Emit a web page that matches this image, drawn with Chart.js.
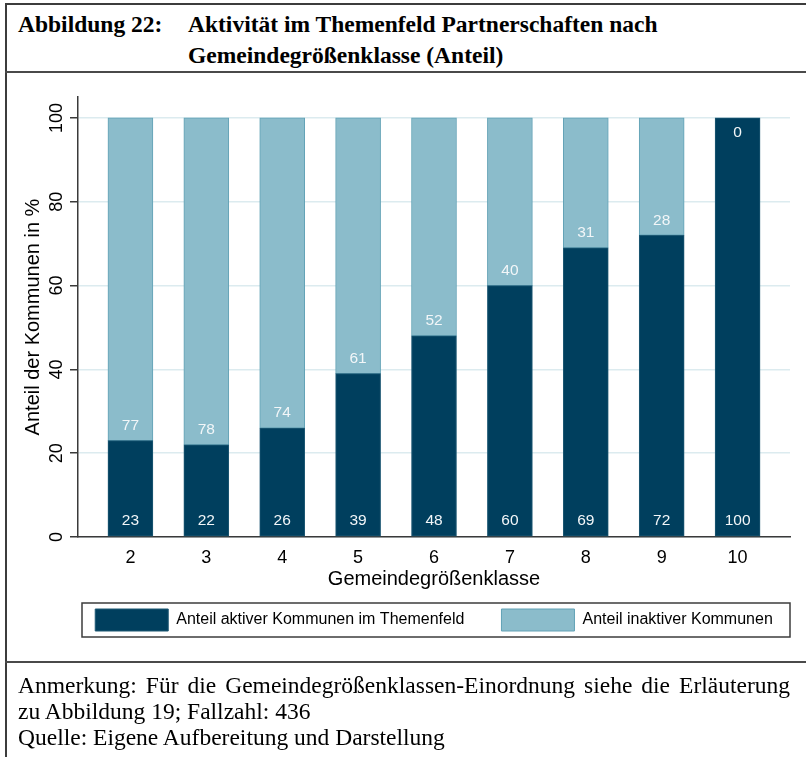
<!DOCTYPE html>
<html lang="de">
<head>
<meta charset="utf-8">
<script src="https://cdn.jsdelivr.net/npm/chart.js@4.4.1/dist/chart.umd.min.js"></script>
<style>
  html, body { margin: 0; padding: 0; background: #fff; }
  body { width: 806px; height: 757px; position: relative; overflow: hidden; }
  .frame { position: absolute; left: 5px; top: 3px; width: 840px; height: 800px;
           border-left: 2px solid #3c3c3c; border-top: 2px solid #3c3c3c; }
  .rule { position: absolute; left: 5px; width: 840px; height: 0; border-top: 2px solid #4a4a4a; }
  .title { position: absolute; left: 18px; top: 9px; font-family: "Liberation Serif", "Times New Roman", serif;
           font-weight: bold; font-size: 23.5px; line-height: 31px; color: #000; }
  .title .lab { position: absolute; left: 0; top: 0; white-space: nowrap; }
  .title .txt { position: absolute; left: 170px; top: 0; width: 610px; white-space: nowrap; }
  .note { position: absolute; left: 18px; top: 672px; width: 772px; font-family: "Liberation Serif", "Times New Roman", serif;
          font-size: 23.5px; line-height: 26px; color: #000; }
  .note div { white-space: nowrap; }
  .note .just { text-align: justify; text-align-last: justify; }
  #wrap { position: absolute; left: 0; top: 74px; width: 806px; height: 588px; }
</style>
</head>
<body>
<div class="frame"></div>
<div class="title">
  <div class="lab">Abbildung 22:</div>
  <div class="txt">Aktivität im Themenfeld Partnerschaften nach<br>Gemeindegrößenklasse (Anteil)</div>
</div>
<div class="rule" style="top:71px"></div>
<div id="wrap"><canvas id="chart"></canvas></div>
<div class="rule" style="top:661px"></div>
<div class="note">
  <div class="just">Anmerkung: Für die Gemeindegrößenklassen-Einordnung siehe die Erläuterung</div>
  <div>zu Abbildung 19; Fallzahl: 436</div>
  <div>Quelle: Eigene Aufbereitung und Darstellung</div>
</div>
<script>
// Gemeindegrößenklassen und Anteile (in %)
const classes = [2, 3, 4, 5, 6, 7, 8, 9, 10];
const active = [23, 22, 26, 39, 48, 60, 69, 72, 100];
const inactive = [77, 78, 74, 61, 52, 40, 31, 28, 0];
const yTicks = [0, 20, 40, 60, 80, 100];

const darkBlue = '#003f5e';
const lightBlue = '#8bbccb';

// Werte in die Balken schreiben
const barLabels = {
  id: 'barLabels',
  afterDatasetsDraw(chart) {
    const ctx = chart.ctx;
    ctx.save();
    ctx.font = '15.5px "Liberation Sans", Arial, sans-serif';
    ctx.fillStyle = '#f2f6f8';
    ctx.textAlign = 'center';
    ctx.textBaseline = 'middle';
    chart.data.datasets.forEach((ds, di) => {
      const meta = chart.getDatasetMeta(di);
      meta.data.forEach((bar, i) => {
        const v = ds.data[i].y;
        let y;
        if (di === 0) {
          y = bar.base - 16;
        } else {
          y = v > 0 ? bar.base - 15 : bar.y + 15;
        }
        ctx.fillText(String(v), bar.x, y);
      });
    });
    ctx.restore();
  }
};

// Rahmen um die Legende
const legendFrame = {
  id: 'legendFrame',
  afterDraw(chart) {
    const lg = chart.legend;
    const ca = chart.chartArea;
    const ctx = chart.ctx;
    ctx.save();
    ctx.strokeStyle = '#3c3c3c';
    ctx.lineWidth = 1.5;
    ctx.strokeRect(ca.left + 4, lg.top, ca.right - ca.left - 4, 34);
    ctx.restore();
  }
};

Chart.defaults.font.family = '"Liberation Sans", Arial, sans-serif';
Chart.defaults.color = '#000';

new Chart(document.getElementById('chart'), {
  type: 'bar',
  data: {
    datasets: [
      {
        label: 'Anteil aktiver Kommunen im Themenfeld',
        data: classes.map((c, i) => ({ x: c, y: active[i] })),
        backgroundColor: darkBlue,
        borderColor: '#1d5873',
        borderWidth: 1,
        borderSkipped: false,
        barThickness: 45
      },
      {
        label: 'Anteil inaktiver Kommunen',
        data: classes.map((c, i) => ({ x: c, y: inactive[i] })),
        backgroundColor: lightBlue,
        borderColor: '#62a2b6',
        borderWidth: 1,
        borderSkipped: false,
        barThickness: 45
      }
    ]
  },
  options: {
    responsive: true,
    maintainAspectRatio: false,
    animation: false,
    layout: { padding: { top: 23, right: 16, bottom: 21, left: 0 } },
    plugins: {
      tooltip: { enabled: false },
      legend: {
        position: 'bottom',
        fullSize: false,
        labels: {
          boxWidth: 73,
          boxHeight: 22,
          padding: 6,
          font: { size: 16 },
          color: '#000',
          // etwas Abstand zwischen den beiden Einträgen
          generateLabels: (chart) => {
            const items = Chart.defaults.plugins.legend.labels.generateLabels(chart);
            items[0].text += '\u00a0'.repeat(7);
            return items;
          }
        }
      }
    },
    scales: {
      x: {
        type: 'linear',
        stacked: true,
        offset: false,
        min: 2 - 52.5 / 76,
        max: 10 + 52.5 / 76,
        afterBuildTicks: (s) => { s.ticks = classes.map(v => ({ value: v })); },
        afterFit: (s) => { s.height = 66; },
        grid: { display: true, drawOnChartArea: false, drawTicks: false, offset: false },
        border: { display: true, color: '#3a3a3a', width: 1.5 },
        ticks: { padding: 10, font: { size: 18 }, color: '#000' },
        title: {
          display: true,
          text: 'Gemeindegrößenklasse',
          font: { size: 20 },
          color: '#000',
          padding: { top: 0, bottom: 12 }
        }
      },
      y: {
        stacked: true,
        min: 0,
        max: 105,
        afterBuildTicks: (s) => { s.ticks = yTicks.map(v => ({ value: v })); },
        afterFit: (s) => { s.width = 78; },
        grid: { color: '#dcebef', lineWidth: 1.5, tickColor: '#3a3a3a', tickLength: 8 },
        border: { display: true, color: '#3a3a3a', width: 1.5 },
        ticks: { padding: -2, minRotation: 90, maxRotation: 90, crossAlign: 'center', font: { size: 18 }, color: '#000' },
        title: {
          display: true,
          text: 'Anteil der Kommunen in %',
          font: { size: 20 },
          color: '#000',
          padding: { top: 21, bottom: 0 }
        }
      }
    }
  },
  plugins: [barLabels, legendFrame]
});
</script>
</body>
</html>
